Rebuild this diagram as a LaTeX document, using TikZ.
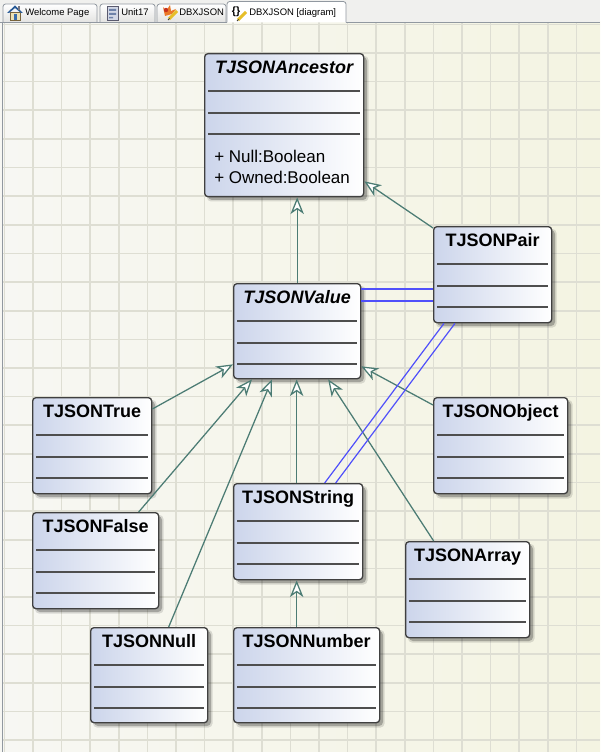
\documentclass[tikz,border=0pt]{standalone}
\usepackage{fontspec}
\setmainfont{Liberation Sans}
\usepackage{tikz}
\usetikzlibrary{arrows.meta,calc}

\definecolor{boxleft}{RGB}{204,213,235}
\definecolor{boxline}{RGB}{64,64,64}
\definecolor{sepgray}{RGB}{78,78,78}
\definecolor{genline}{RGB}{76,124,116}
\definecolor{assocline}{RGB}{80,80,250}
\definecolor{gridgray}{RGB}{222,222,211}
\definecolor{canvasleft}{RGB}{247,247,243}
\definecolor{canvasright}{RGB}{244,244,226}
\definecolor{tabbar}{RGB}{240,240,238}
\definecolor{tabedge}{RGB}{145,152,160}
\definecolor{tabfill}{RGB}{228,228,226}
% icon colours
\definecolor{housewall}{RGB}{238,226,180}
\definecolor{houseedge}{RGB}{120,100,60}
\definecolor{housedoor}{RGB}{60,110,170}
\definecolor{houseroof}{RGB}{40,90,150}
\definecolor{chimney}{RGB}{120,120,130}
\definecolor{unitpage}{RGB}{210,215,230}
\definecolor{unitedge}{RGB}{90,90,110}
\definecolor{unitmark}{RGB}{110,130,170}
\definecolor{splash}{RGB}{235,120,40}
\definecolor{splashdot}{RGB}{200,50,30}
\definecolor{pencil}{RGB}{230,190,40}
\definecolor{pencilpoint}{RGB}{60,60,60}

\tikzset{
  classbox/.style={draw=boxline, line width=1pt, rounded corners=2.5pt,
    left color=boxleft, right color=white, inner sep=0pt},
  classname/.style={font=\fontsize{13.5}{16}\selectfont\bfseries, inner sep=0pt, anchor=base},
  attr/.style={font=\fontsize{12.75}{15}\selectfont, inner sep=0pt, anchor=base west},
  compartment/.style={draw=sepgray, line width=1.05pt},
  inherit/.style={draw=genline, line width=0.95pt,
    -{Stealth[fill=white, length=12.5pt, width=10pt, inset=3.5pt]}},
  assoc/.style={draw=assocline, line width=0.9pt},
  gridrule/.style={draw=gridgray, line width=1.2pt},
  tab/.style={draw=tabedge, line width=0.6pt, rounded corners=2pt,
    top color=white, bottom color=tabfill},
  tablabel/.style={font=\fontsize{7.1}{9}\selectfont, inner sep=0pt, anchor=base west},
}

% box: name, x, y, width, height, title
\newcommand{\umlclass}[6]{%
  \fill[black, opacity=0.12, rounded corners=3pt] (#2+3,#3+3) rectangle ++(#4+2.5,#5+2.5);
  \fill[black, opacity=0.24, rounded corners=3pt] (#2+4,#3+4) rectangle ++(#4,#5);
  \node[classbox, anchor=north west, minimum width=#4*0.75pt,
    minimum height=#5*0.75pt] (#1) at (#2,#3) {};
  \node[classname] (#1-name) at ($(#1.north)+(0,20.5)$) {#6};
  \foreach \dy in {38,60,81}
    \draw[compartment] ($(#1.north west)+(4,\dy)$) -- ($(#1.north east)+(-4,\dy)$);
}

\begin{document}
\begin{tikzpicture}[x=0.75pt,y=-0.75pt]
  \useasboundingbox (0,0) rectangle (600,752);

  % canvas and grid
  \shade[left color=canvasleft, right color=canvasright] (0,22) rectangle (600,752);
  \foreach \i in {0,...,20}
    \draw[gridrule] (4.4+\i*28.6,22) -- (4.4+\i*28.6,752);
  \foreach \j in {0,...,25}
    \draw[gridrule] (3,24.4+\j*28.63) -- (600,24.4+\j*28.63);
  \draw[tabedge, line width=0.8pt] (2.5,22) -- (2.5,752);

  % tab bar
  \fill[tabbar] (0,0) rectangle (600,22);
  \draw[tabedge, line width=0.6pt] (0,22) -- (227,22);
  \draw[tabedge, line width=0.6pt] (346,22) -- (600,22);
  \draw[tab] (3,22) -- (3,4) -- (97,4) -- (97,22);
  \draw[tab] (100,22) -- (100,4) -- (155,4) -- (155,22);
  \draw[tab] (157,22) -- (157,4) -- (226,4) -- (226,22);
  \filldraw[draw=tabedge, fill=white, line width=0.6pt, rounded corners=2pt]
    (227,22.5) -- (227,1.5) -- (346,1.5) -- (346,22.5);
  \node[tablabel] (tabwelcome) at (25,16) {Welcome Page};
  \node[tablabel] (tabunit) at (121,16) {Unit17};
  \node[tablabel] (tabjson) at (179,16) {DBXJSON};
  \node[tablabel] (tabdiagram) at (249,16) {DBXJSON [diagram]};

  % tab icons
  \filldraw[fill=housewall, draw=houseedge, line width=0.4pt] (10,12) rectangle (20,20);
  \fill[housedoor] (13.5,14.5) rectangle (16.5,20);
  \fill[houseroof] (7,13) -- (15,5.5) -- (23,13) -- (21,13) -- (15,8) -- (9,13) -- cycle;
  \fill[chimney] (18,6) rectangle (20,10);
  \filldraw[fill=unitpage, draw=unitedge, line width=0.5pt] (107,6) rectangle (118,20);
  \fill[unitmark] (109,9) rectangle (116,11) (109,13) rectangle (116,15) (109,17) rectangle (113,18.5);
  \fill[splash] (163,7) -- (166,11) -- (170,5) -- (171,11) -- (176,9) -- (172,14) -- (165,16) -- cycle;
  \fill[splashdot] (166,10) circle (2.2);
  \draw[pencil, line width=2.2pt] (169,19) -- (177,11);
  \draw[pencilpoint, line width=0.6pt] (168,20) -- (169.5,18.5);
  \node[font=\fontsize{8}{9}\selectfont\bfseries, inner sep=0pt] (tabbrace) at (236,12) {\{\}};
  \draw[pencil, line width=2.2pt] (238,20) -- (246,12);
  \draw[pencilpoint, line width=0.6pt] (237,21) -- (238.5,19.5);

  % classes
  \umlclass{anc}{204}{53}{159}{143}{\itshape TJSONAncestor}
  \node[attr] (anc-null) at (214,163) {+ Null:Boolean};
  \node[attr] (anc-owned) at (214,184) {+ Owned:Boolean};
  \umlclass{pair}{433}{226}{118}{96}{TJSONPair}
  \umlclass{val}{233}{283}{127}{95}{\itshape TJSONValue}
  \umlclass{true}{32}{397}{119}{96}{TJSONTrue}
  \umlclass{obj}{433}{397}{134}{96}{TJSONObject}
  \umlclass{str}{233}{483}{129}{96}{TJSONString}
  \umlclass{false}{32}{512}{126}{96}{TJSONFalse}
  \umlclass{arr}{405}{541}{124}{96}{TJSONArray}
  \umlclass{null}{90}{627}{117}{95}{TJSONNull}
  \umlclass{num}{233}{627}{146}{95}{TJSONNumber}

  % generalizations
  \coordinate (v1) at ($(val.north -| anc.south)+(13,0)$);
  \coordinate (s1) at ($(str.north)+(-1.5,0)$);
  \draw[inherit] (v1) -- (v1 |- anc.south);
  \draw[inherit] ($(pair.north west)+(0,2)$) -- ($(anc.south east)+(0,-16)$);
  \draw[inherit] ($(true.north east)+(0,12)$) -- ($(val.south west)+(0,-15)$);
  \draw[inherit] ($(false.north)+(43,0)$) -- ($(val.south west)+(19,0)$);
  \draw[inherit] ($(null.north)+(19.5,0)$) -- ($(val.south west)+(39,0)$);
  \draw[inherit] (s1) -- (s1 |- val.south);
  \draw[inherit] ($(arr.north)+(-34,0)$) -- ($(val.south)+(31,0)$);
  \draw[inherit] ($(obj.north west)+(0,8)$) -- ($(val.south east)+(0,-13)$);
  \draw[inherit] (s1 |- num.north) -- (s1 |- str.south);

  % associations
  \coordinate (a1) at ($(val.north east)+(0,6)$);
  \coordinate (a2) at ($(val.north east)+(0,18)$);
  \draw[assoc] (a1) -- (a1 -| pair.west);
  \draw[assoc] (a2) -- (a2 -| pair.west);
  \draw[assoc] ($(str.north)+(26.5,0)$) -- ($(pair.south west)+(11,0)$);
  \draw[assoc] ($(str.north)+(37.5,0)$) -- ($(pair.south west)+(22,0)$);
\end{tikzpicture}
\end{document}
